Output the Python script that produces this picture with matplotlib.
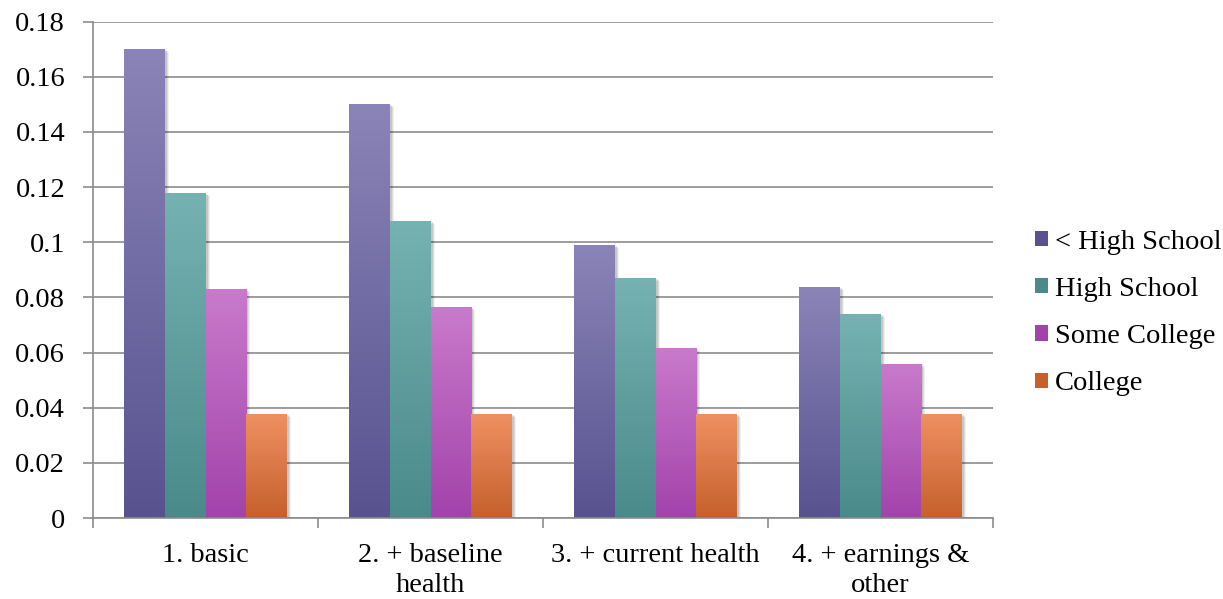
import numpy as np
import matplotlib
matplotlib.use("Agg")
import matplotlib.pyplot as plt
import matplotlib.transforms as mtransforms
from matplotlib.patches import Rectangle
from matplotlib.colors import LinearSegmentedColormap

# Data
categories = ["1. basic", "2. + baseline\nhealth", "3. + current health", "4. + earnings &\nother"]
series_names = ["< High School", "High School", "Some College", "College"]
less_than_hs = [0.170, 0.150, 0.0988, 0.0838]
high_school = [0.118, 0.1075, 0.0870, 0.0738]
some_college = [0.0830, 0.0765, 0.0615, 0.0560]
college = [0.0376, 0.0376, 0.0376, 0.0376]
yticks = [0, 0.02, 0.04, 0.06, 0.08, 0.10, 0.12, 0.14, 0.16, 0.18]
ytick_labels = ["0", "0.02", "0.04", "0.06", "0.08", "0.1", "0.12", "0.14", "0.16", "0.18"]

series_values = [less_than_hs, high_school, some_college, college]
# (top colour, bottom colour) for each series gradient
gradients = [("#8a84b8", "#58528f"),
             ("#76b2b2", "#4a8a8a"),
             ("#c97acb", "#a243ab"),
             ("#ee9062", "#c6602b")]

FONT = ["Liberation Serif", "DejaVu Serif"]
FS = 20.5

fig = plt.figure(figsize=(12.23, 5.99), dpi=100)
W, H = 1223, 599
ax = fig.add_axes([93 / W, (H - 518) / H, 900 / W, (518 - 21.5) / H])

# horizontal gridlines
for y in yticks:
    ax.axhline(y, color="#8c8c8c", lw=1.2, zorder=1)

bar_w = 0.182
x = np.arange(len(categories))
n = len(series_values)

grad = np.linspace(0, 1, 256).reshape(-1, 1)
for j, (vals, (ctop, cbot)) in enumerate(zip(series_values, gradients)):
    pos = x + (j - (n - 1) / 2) * bar_w
    bars = ax.bar(pos, vals, width=bar_w, color=cbot, edgecolor="none", zorder=3)
    cmap = LinearSegmentedColormap.from_list(f"g{j}", [cbot, ctop])
    for b in bars:
        x0, y0 = b.get_x(), b.get_y()
        bw, bh = b.get_width(), b.get_height()
        # soft drop shadow
        for dx, dy, a in [(4, -3, 0.06), (3, -2, 0.08), (2, -1, 0.10)]:
            off = mtransforms.ScaledTranslation(dx / 100, dy / 100, fig.dpi_scale_trans)
            ax.add_patch(Rectangle((x0, y0), bw, bh, facecolor="black", alpha=a,
                                   edgecolor="none", transform=ax.transData + off,
                                   zorder=2))
        im = ax.imshow(grad, cmap=cmap, origin="lower", aspect="auto",
                       extent=(x0, x0 + bw, y0, y0 + bh), zorder=3.5,
                       interpolation="bilinear")
        im.set_clip_path(b)

ax.set_xlim(-0.5, len(categories) - 0.5)
ax.set_ylim(0, 0.18)

# axes styling
for s in ["top", "right"]:
    ax.spines[s].set_visible(False)
for s in ["left", "bottom"]:
    ax.spines[s].set_color("#8c8c8c")
    ax.spines[s].set_linewidth(1.2)
    ax.spines[s].set_zorder(4)

ax.set_yticks(yticks)
ax.set_yticklabels(ytick_labels, fontfamily=FONT, fontsize=FS)
ax.tick_params(axis="y", length=7, width=1.2, color="#8c8c8c", pad=13)

ax.set_xticks(x)
ax.set_xticklabels(categories, fontfamily=FONT, fontsize=FS, linespacing=1.28)
ax.set_xticks(np.arange(-0.5, len(categories), 1.0), minor=True)
ax.tick_params(axis="x", which="major", length=0, pad=18)
ax.tick_params(axis="x", which="minor", length=7, width=1.2, color="#8c8c8c")

handles = [Rectangle((0, 0), 1, 1, facecolor=c[1]) for c in gradients]
leg = fig.legend(handles, series_names, loc="center left",
                 bbox_to_anchor=(1035 / W, 1 - 313 / H), frameon=False,
                 borderpad=0, borderaxespad=0,
                 prop={"family": FONT, "size": FS}, handlelength=0.45,
                 handleheight=0.45, handletextpad=0.25, labelspacing=0.78)

fig.savefig("out.png", dpi=100)
